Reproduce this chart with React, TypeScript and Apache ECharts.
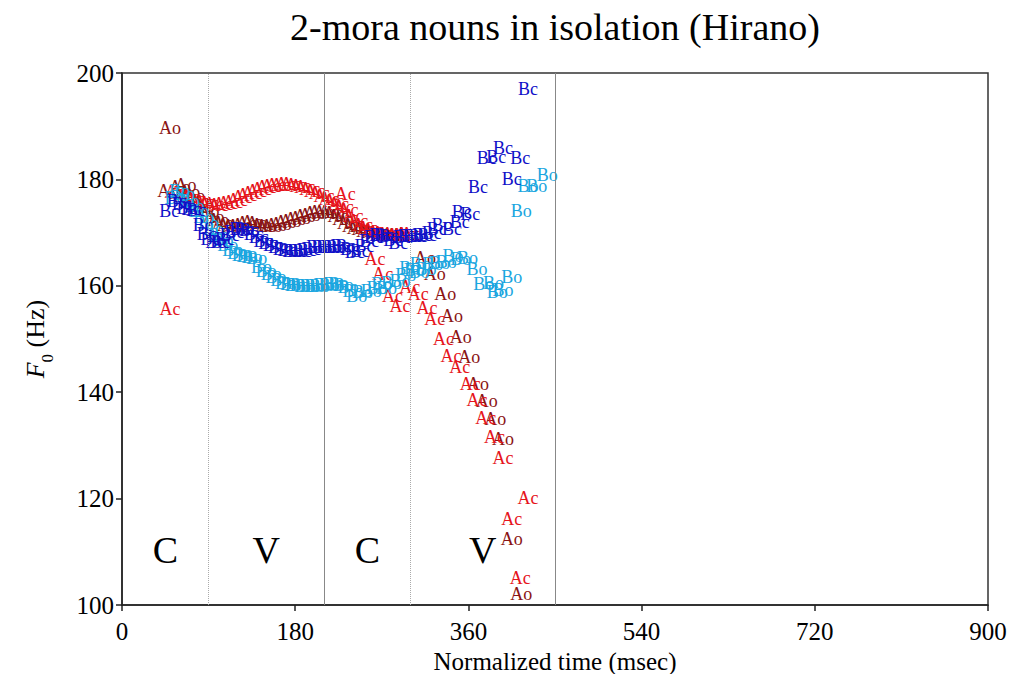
import React, { useEffect, useRef } from "react";
import * as echarts from "echarts";

// F0 samples: [normalized time (msec), F0 (Hz)]
const acData: [number, number][] = [
  [50, 155.6],
  [55, 177.6], [60, 177.4], [65, 176.9], [70, 176.6], [75, 176.3], [80, 176.0], [85, 175.8], [90, 175.6],
  [95, 175.4], [100, 175.2], [105, 175.3], [110, 175.5], [115, 175.8], [120, 176.2], [125, 176.7], [130, 177.1],
  [135, 177.5], [140, 177.9], [145, 178.2], [150, 178.5], [155, 178.7], [160, 178.9], [165, 179.0], [170, 179.1],
  [175, 179.1], [180, 179.0], [185, 178.8], [190, 178.5], [195, 178.2], [200, 177.8], [205, 177.4], [210, 176.9],
  [215, 176.4], [220, 175.9], [225, 175.4], [230, 174.8], [232, 177.3], [235, 174.2], [240, 173.2], [245, 172.2],
  [250, 171.4], [255, 170.9], [260, 170.5], [265, 170.2], [270, 170.0], [275, 169.8], [280, 169.7], [285, 169.6],
  [290, 169.6], [295, 169.7], [300, 169.8],
  [263, 165.0], [271, 162.2], [281, 158.1], [289, 156.2], [299, 159.8], [308, 158.5], [317, 155.8], [325, 153.8],
  [334, 150.0], [342, 146.8], [351, 144.7], [362, 141.5], [369, 138.5], [378, 135.2], [387, 131.6], [396, 127.6],
  [405, 116.2], [414, 105.1], [422, 120.1],
];

const aoData: [number, number][] = [
  [50, 189.7], [48, 177.8],
  [60, 178.6], [66, 179.0], [70, 177.6], [75, 176.8], [80, 176.0], [85, 175.0], [90, 174.0], [95, 173.0],
  [100, 172.3], [105, 171.8], [110, 171.5], [115, 171.3], [120, 171.3], [125, 171.5], [130, 171.8], [135, 172.0],
  [140, 171.8], [145, 171.4], [150, 171.2], [155, 171.2], [160, 171.4], [165, 171.6], [170, 171.9], [175, 172.2],
  [180, 172.5], [185, 172.8], [190, 173.1], [195, 173.4], [200, 173.6], [205, 173.8], [210, 173.9], [215, 173.9],
  [220, 173.7], [225, 173.2], [230, 172.5], [235, 171.8], [240, 171.3], [245, 170.9], [250, 170.6], [255, 170.3],
  [260, 170.1], [265, 169.9], [270, 169.7], [275, 169.6], [280, 169.5], [285, 169.5], [290, 169.6], [295, 169.7],
  [315, 165.2], [325, 162.2], [336, 158.5], [343, 154.3], [352, 150.4], [361, 146.6], [370, 141.5], [379, 138.3],
  [388, 135.0], [396, 131.2], [405, 112.4], [415, 102.1],
];

const bcData: [number, number][] = [
  [49, 174.1], [57, 175.9], [62, 175.3], [67, 174.6], [72, 174.4], [77, 174.3], [84, 171.4], [88, 169.8],
  [92, 168.8], [97, 168.3], [102, 168.3], [107, 168.8], [112, 169.5], [117, 170.2], [122, 170.6], [127, 170.7],
  [132, 170.4], [137, 169.8], [142, 169.1], [147, 168.5], [152, 168.0], [157, 167.6], [162, 167.2], [167, 166.9],
  [172, 166.7], [177, 166.6], [182, 166.5], [187, 166.6], [192, 166.7], [197, 167.0], [202, 167.2], [207, 167.3],
  [212, 167.3], [217, 167.3], [222, 167.3], [227, 167.4], [232, 167.4], [237, 167.0], [242, 166.3], [247, 166.5],
  [252, 167.5], [257, 168.5], [262, 169.2], [267, 169.5], [272, 169.5], [277, 169.4], [282, 168.6], [287, 168.0],
  [292, 169.2], [297, 169.4], [302, 169.4], [307, 169.4], [312, 169.5], [317, 169.6], [322, 170.0], [327, 170.6],
  [332, 171.4], [343, 170.7], [351, 172.0], [353, 173.9], [362, 173.5], [370, 178.6], [379, 184.0], [389, 184.2],
  [396, 185.9], [405, 180.1], [414, 184.0], [422, 197.0],
];

const boData: [number, number][] = [
  [55, 176.5], [60, 177.8], [65, 177.2], [70, 176.0], [75, 175.0], [80, 174.0], [85, 173.0], [90, 171.8],
  [95, 170.6], [100, 169.6], [105, 168.6], [110, 167.6], [115, 166.8], [120, 166.2], [125, 165.8], [130, 165.6],
  [135, 165.4], [140, 165.2], [145, 163.6], [150, 162.8], [155, 162.3], [160, 161.6], [165, 161.0], [170, 160.6],
  [175, 160.3], [180, 160.2], [185, 160.1], [190, 160.0], [195, 160.0], [200, 160.0], [205, 160.0], [210, 160.1],
  [215, 160.2], [220, 160.3], [225, 160.4], [230, 160.2], [235, 159.7], [240, 159.0], [244, 158.1], [250, 158.8],
  [259, 159.0], [265, 159.6], [270, 160.4], [275, 159.6], [280, 160.5], [289, 160.9], [295, 162.0], [299, 163.3],
  [304, 163.0], [309, 162.6], [310, 164.1], [316, 163.2], [323, 164.1], [330, 164.3], [337, 164.5], [344, 165.6],
  [352, 165.0], [359, 165.2], [369, 163.2], [376, 160.3], [386, 160.5], [390, 158.8], [396, 159.2], [405, 161.7],
  [415, 174.1], [422, 178.8], [431, 178.8], [442, 180.8],
];

// Segment labels (time, F0 position, text)
const segmentLabels: [number, number, string][] = [
  [45, 110.3, "C"],
  [150, 110.3, "V"],
  [255, 110.3, "C"],
  [375, 110.3, "V"],
];

// Segment boundaries (msec)
const dottedBounds = [90, 300];
const solidBounds = [210, 450];

const xTicks = { min: 0, max: 900, interval: 180 };
const yTicks = { min: 100, max: 200, interval: 20 };

const SERIF = '"Liberation Serif", "Times New Roman", serif';

const seriesDefs = [
  { name: "Ao", data: aoData, color: "#8a1414" },
  { name: "Ac", data: acData, color: "#e6141b" },
  { name: "Bo", data: boData, color: "#1aa6e0" },
  { name: "Bc", data: bcData, color: "#1010c8" },
];

export default function App() {
  const ref = useRef<HTMLDivElement>(null);

  useEffect(() => {
    if (!ref.current) return;
    const chart = echarts.init(ref.current, undefined, { renderer: "svg" });

    const textSeries = seriesDefs.map((s) => ({
      name: s.name,
      type: "scatter",
      data: s.data,
      symbolSize: 1,
      itemStyle: { color: "transparent", opacity: 1 },
      label: {
        show: true,
        position: "inside",
        formatter: s.name,
        color: s.color,
        opacity: 1,
        textBorderWidth: 0,
        fontFamily: SERIF,
        fontSize: 18,
      },
      silent: true,
      z: 3,
    }));

    chart.setOption({
      animation: false,
      backgroundColor: "#ffffff",
      grid: {
        left: 122,
        right: 25,
        top: 73,
        bottom: 69,
        show: true,
        borderColor: "#333",
        borderWidth: 1.5,
        containLabel: false,
        outerBoundsMode: "none",
      },
      graphic: [
        {
          type: "text",
          x: 555,
          y: 27,
          style: {
            text: "2-mora nouns in isolation (Hirano)",
            fontFamily: SERIF,
            fontSize: 38,
            fill: "#000",
            align: "center",
            verticalAlign: "middle",
          },
        },
      ],
      xAxis: {
        type: "value",
        ...xTicks,
        name: "Normalized time (msec)",
        nameLocation: "middle",
        nameGap: 42,
        nameTextStyle: { fontFamily: SERIF, fontSize: 25, color: "#000" },
        axisLine: { show: true, lineStyle: { color: "#222", width: 1.5 } },
        axisTick: { show: true, inside: false, length: 6, lineStyle: { color: "#222", width: 1.5 } },
        axisLabel: { fontFamily: SERIF, fontSize: 25, color: "#000", margin: 14 },
        splitLine: { show: false },
      },
      yAxis: {
        type: "value",
        ...yTicks,
        name: "{i|F}{s|0}{n| (Hz)}",
        nameLocation: "middle",
        nameRotate: 90,
        nameGap: 66,
        nameTextStyle: {
          color: "#000",
          rich: {
            i: { fontFamily: SERIF, fontSize: 26, fontStyle: "italic", color: "#000", lineHeight: 34, verticalAlign: "top" },
            s: { fontFamily: SERIF, fontSize: 17, color: "#000", lineHeight: 34, verticalAlign: "bottom" },
            n: { fontFamily: SERIF, fontSize: 26, color: "#000", lineHeight: 34, verticalAlign: "top" },
          },
        },
        axisLine: { show: true, lineStyle: { color: "#222", width: 1.5 } },
        axisTick: { show: true, inside: false, length: 6, lineStyle: { color: "#222", width: 1.5 } },
        axisLabel: { fontFamily: SERIF, fontSize: 25, color: "#000", margin: 8 },
        splitLine: { show: false },
      },
      series: [
        {
          name: "segments",
          type: "scatter",
          data: segmentLabels,
          symbolSize: 1,
          itemStyle: { color: "transparent", opacity: 1 },
          label: {
            show: true,
            position: "inside",
            formatter: (p: any) => p.data[2],
            color: "#000",
            textBorderWidth: 0,
            fontFamily: SERIF,
            fontSize: 38,
          },
          silent: true,
          z: 2,
          markLine: {
            silent: true,
            symbol: "none",
            label: { show: false },
            data: [
              ...dottedBounds.map((v) => ({
                xAxis: v,
                lineStyle: { type: "dotted", color: "#aaaaaa", width: 1 },
              })),
              ...solidBounds.map((v) => ({
                xAxis: v,
                lineStyle: { type: "solid", color: "#888888", width: 1 },
              })),
            ],
          },
        },
        ...textSeries,
      ],
    });

    return () => chart.dispose();
  }, []);

  return (
    <div
      ref={ref}
      style={{ position: "fixed", left: 0, top: 0, width: 1013, height: 674, background: "#fff" }}
    />
  );
}
